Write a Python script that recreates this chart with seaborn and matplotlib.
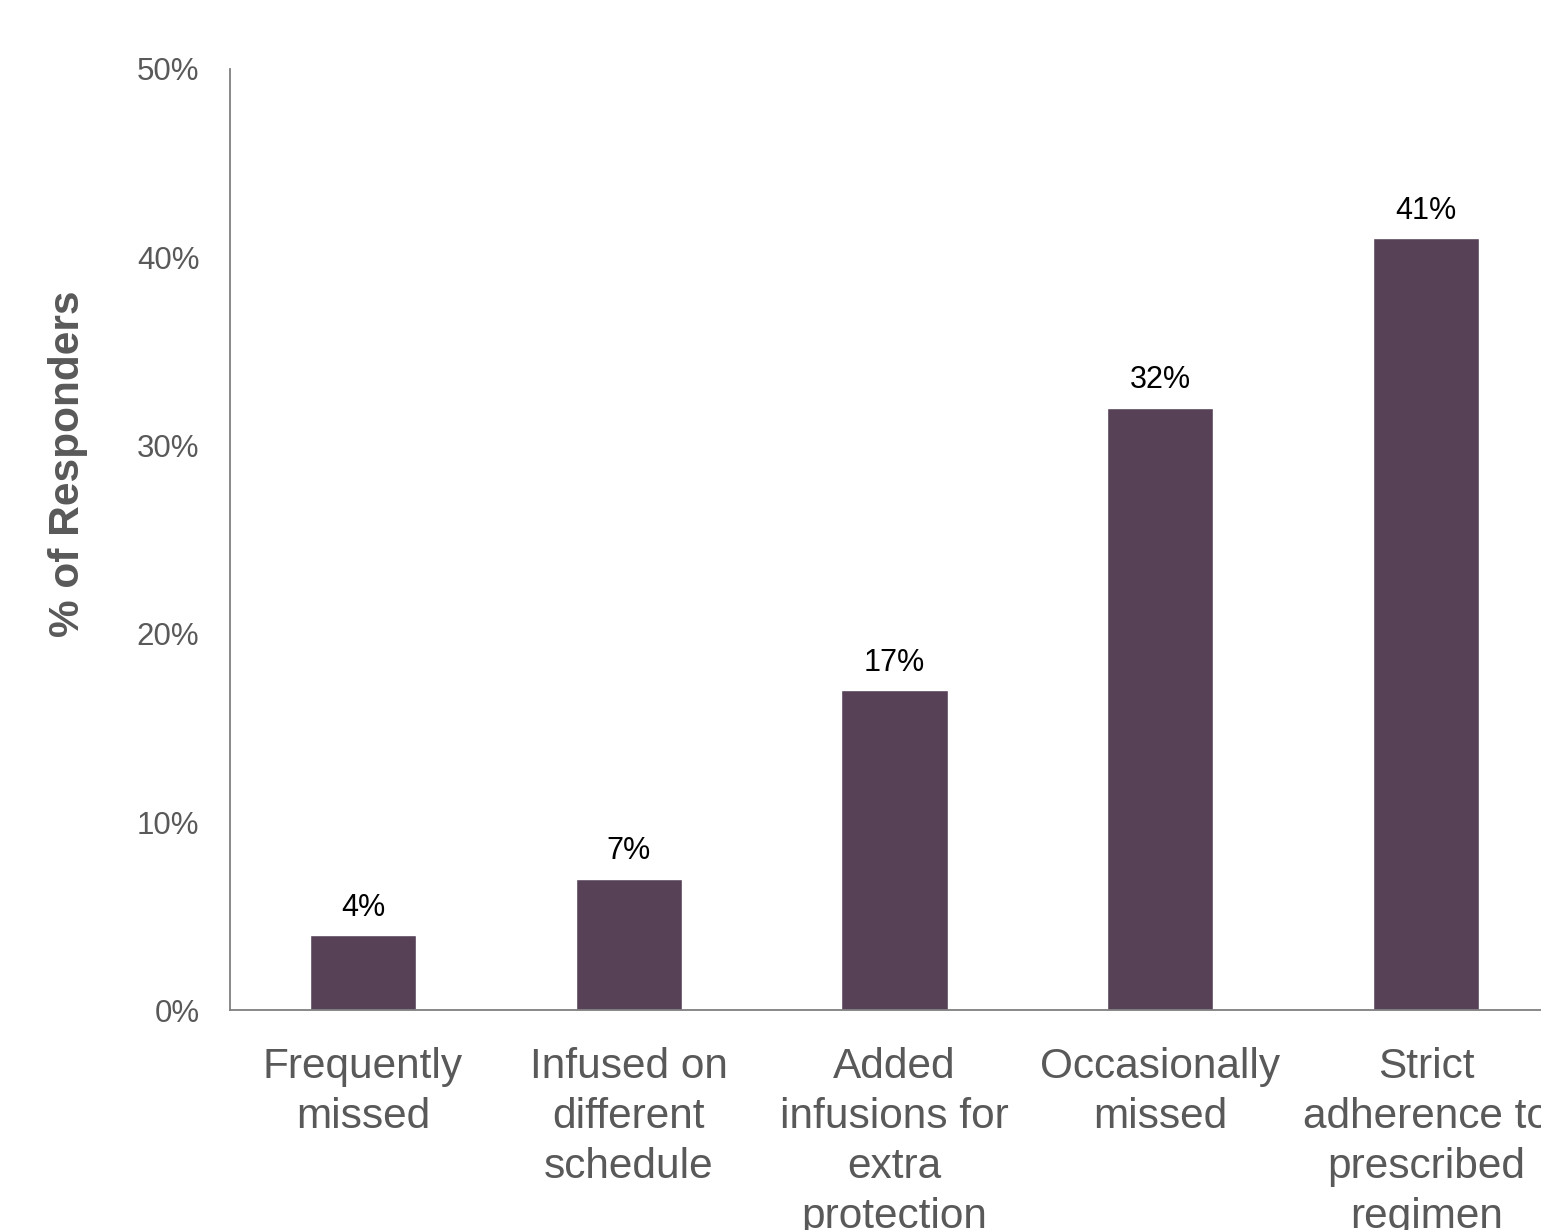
import matplotlib
matplotlib.use("Agg")
import matplotlib.pyplot as plt
import seaborn as sns
import pandas as pd

categories = ["Frequently\nmissed", "Infused on\ndifferent\nschedule", "Added\ninfusions for\nextra\nprotection",
              "Occasionally\nmissed", "Strict\nadherence to\nprescribed\nregimen"]
values = [4, 7, 17, 32, 41]
yticks = [0, 10, 20, 30, 40, 50]
ytick_labels = ["0%", "10%", "20%", "30%", "40%", "50%"]

sns.set_style("white")
plt.rcParams['font.family'] = ['Liberation Sans', 'DejaVu Sans']

df = pd.DataFrame({"cat": categories, "val": values})

fig = plt.figure(figsize=(15.41, 12.3), dpi=100)
ax = fig.add_axes([230/1541, 0.1785, (1559-230)/1541, 0.944-0.1785])
sns.barplot(data=df, x="cat", y="val", color="#574157", saturation=1, width=0.4, ax=ax)

ax.set_xlim(-0.5, 4.5)
ax.set_ylim(0, 50)
ax.set_yticks(yticks)
ax.set_yticklabels(ytick_labels, fontsize=22.5, color="#595959")
ax.tick_params(axis='x', length=0, pad=26, labelsize=30.5, labelcolor="#595959")
ax.tick_params(axis='y', length=0, pad=22)
for lbl in ax.get_xticklabels():
    lbl.set_linespacing(1.33)
ax.set_xlabel("")
ax.set_ylabel("% of Responders", fontsize=30.5, fontweight="bold", color="#595959")
ax.yaxis.set_label_coords(-(230-88)/1329, (1011-465)/941)

for s in ["top", "right"]:
    ax.spines[s].set_visible(False)
for s in ["left", "bottom"]:
    ax.spines[s].set_color("#7f7f7f")
    ax.spines[s].set_linewidth(1.3)

for c in ax.containers:
    ax.bar_label(c, labels=[f"{v}%" for v in values], padding=9, fontsize=22, color="#000000")

fig.savefig("out.png", dpi=100)
